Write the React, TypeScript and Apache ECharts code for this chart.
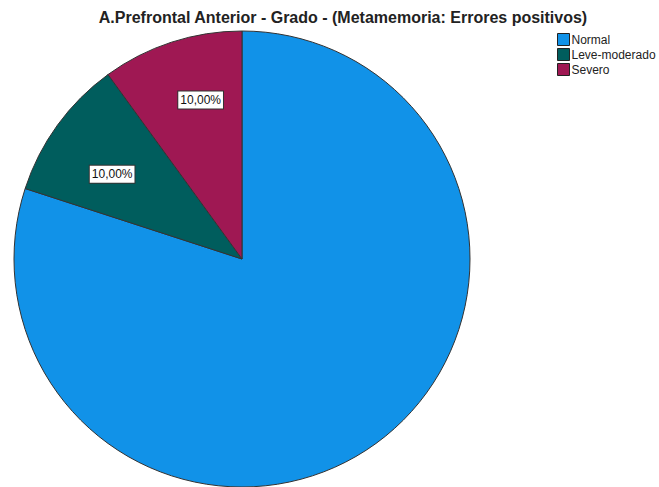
import React, { useEffect, useRef } from "react";
import * as echarts from "echarts";

const categories = ["Normal", "Leve-moderado", "Severo"];
const values = [80, 10, 10];
const labelsShown = ["", "10,00%", "10,00%"];
const colors = ["#1192e8", "#005d5d", "#9f1853"];
const labelOffsets = [[0, 0], [2, 11], [9, -4]];

export default function App() {
  const ref = useRef<HTMLDivElement>(null);
  useEffect(() => {
    document.body.style.margin = "0";
    const chart = echarts.init(ref.current!, null, { renderer: "svg" });
    const data = categories.map((c, i) => ({
      name: c,
      value: values[i],
      itemStyle: { color: colors[i] },
    }));
    chart.setOption({
      animation: false,
      title: {
        text: "A.Prefrontal Anterior - Grado - (Metamemoria: Errores positivos)",
        left: 343,
        textAlign: "center",
        top: 9,
        padding: 0,
        textStyle: { fontFamily: "'Liberation Sans', Arial, sans-serif", fontSize: 16, fontWeight: "bold", color: "#222" },
      },
      legend: {
        orient: "vertical",
        left: 557,
        top: 33,
        padding: 0,
        itemWidth: 12,
        itemHeight: 12,
        itemGap: 2,
        icon: "rect",
        data: categories,
        itemStyle: { borderColor: "#222", borderWidth: 1 },
        textStyle: { fontFamily: "'Liberation Sans', Arial, sans-serif", fontSize: 12, color: "#222", padding: [0, 0, 0, -3] },
      },
      series: [
        {
          type: "pie",
          center: [242, 259],
          radius: [0, 228],
          startAngle: 90,
          clockwise: true,
          data,
          label: { show: false },
          labelLine: { show: false },
          itemStyle: { borderColor: "#333", borderWidth: 1 },
          silent: true,
        },
        {
          type: "pie",
          center: [242, 259],
          radius: [92, 228],
          startAngle: 90,
          clockwise: true,
          silent: true,
          legendHoverLink: false,
          data: categories.map((c, i) => ({
            name: c,
            value: values[i],
            itemStyle: { color: "transparent" },
            label: {
              show: labelsShown[i] !== "",
              formatter: labelsShown[i],
              offset: labelOffsets[i],
            },
          })),
          label: {
            position: "inside",
            fontFamily: "'Liberation Sans', Arial, sans-serif",
            fontSize: 12,
            color: "#111",
            backgroundColor: "#fff",
            borderColor: "#333",
            borderWidth: 1,
            padding: [3, 2, 2, 2],
          },
          labelLine: { show: false },
        },
      ],
    });
    return () => chart.dispose();
  }, []);
  return <div ref={ref} style={{ width: 659, height: 487 }} />;
}
